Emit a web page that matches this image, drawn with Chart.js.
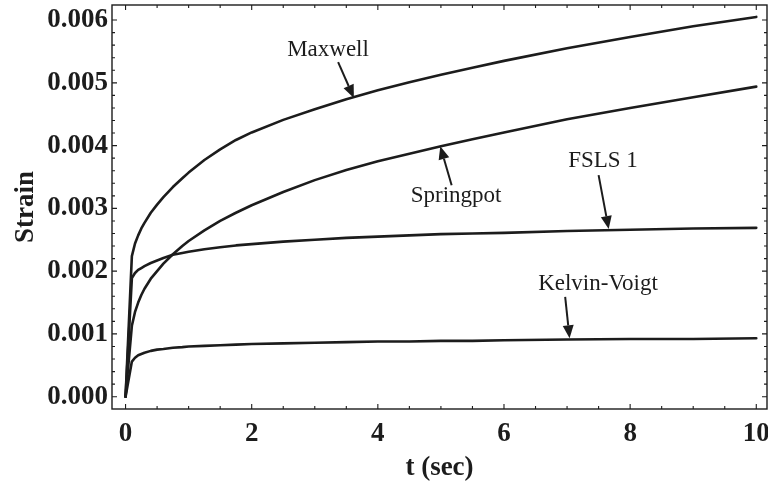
<!DOCTYPE html>
<html><head><meta charset="utf-8">
<script src="https://cdn.jsdelivr.net/npm/chart.js@4/dist/chart.umd.min.js"></script>
<style>html,body{margin:0;padding:0;background:#fff;overflow:hidden}#wrap{width:768px;height:489px;position:relative}</style>
</head><body><div id="wrap"><canvas id="c" width="768" height="489"></canvas></div>
<script>
// ---- data ----
const tValues     = [0, 0.1, 0.15, 0.2, 0.25, 0.3, 0.4, 0.5, 0.6, 0.75, 0.9, 1, 1.25, 1.5, 1.75, 2, 2.5, 3, 3.5, 4, 4.5, 5, 5.5, 6, 7, 8, 9, 10];
const maxwell     = [0, 0.00224, 0.00244, 0.00257, 0.00268, 0.00277, 0.00293, 0.00306, 0.00318, 0.00334, 0.00348, 0.00357, 0.00377, 0.00394, 0.00409, 0.00421, 0.00441, 0.00458, 0.00474, 0.00488, 0.00501, 0.00513, 0.00524, 0.00535, 0.00555, 0.00573, 0.00590, 0.00605];
const springpot   = [0, 0.00113, 0.00135, 0.00150, 0.00162, 0.00172, 0.00188, 0.00200, 0.00212, 0.00227, 0.00240, 0.00248, 0.00265, 0.00280, 0.00293, 0.00305, 0.00326, 0.00345, 0.00361, 0.00375, 0.00387, 0.00399, 0.00410, 0.00421, 0.00442, 0.00460, 0.00477, 0.00494];
const fsls1       = [0, 0.00189, 0.00197, 0.00202, 0.00205, 0.00208, 0.00213, 0.00217, 0.00221, 0.00226, 0.00229, 0.00231, 0.00235, 0.00238, 0.00241, 0.00243, 0.00247, 0.00250, 0.00253, 0.00255, 0.00257, 0.00259, 0.00260, 0.00261, 0.00264, 0.00266, 0.00268, 0.00269];
const kelvinVoigt = [0, 0.00056, 0.00062, 0.00066, 0.00068, 0.00070, 0.00073, 0.00075, 0.00076, 0.00078, 0.00079, 0.00080, 0.00081, 0.00082, 0.00083, 0.00084, 0.00085, 0.00086, 0.00087, 0.00088, 0.00088, 0.00089, 0.00089, 0.00090, 0.00091, 0.00092, 0.00092, 0.00093];
const seriesNames = ['Maxwell', 'Springpot', 'FSLS 1', 'Kelvin-Voigt'];
const xTickValues = [0, 2, 4, 6, 8, 10];
const xTickLabels = ['0', '2', '4', '6', '8', '10'];
const yTickValues = [0, 0.001, 0.002, 0.003, 0.004, 0.005, 0.006];
const yTickLabels = ['0.000', '0.001', '0.002', '0.003', '0.004', '0.005', '0.006'];
const xTitle = 't (sec)';
const yTitle = 'Strain';
// annotation labels and arrows, in data units
const labelText = ['Maxwell', 'Springpot', 'FSLS 1', 'Kelvin-Voigt'];
const labelPos  = [[3.21, 0.00552], [5.24, 0.00320], [7.57, 0.00375], [7.49, 0.00180]];
const arrowTail = [[3.37, 0.00533], [5.17, 0.00337], [7.50, 0.00353], [6.97, 0.00159]];
const arrowTip  = [[3.62, 0.00476], [4.99, 0.00399], [7.66, 0.00267], [7.04, 0.00093]];

const INK = '#1c1c1c';
const boldFont = {family: "'Liberation Serif','Times New Roman',serif", size: 27, weight: 'bold'};

function mk(values, name) {
  return {label: name, data: tValues.map((t, i) => ({x: t, y: values[i]})),
    borderColor: INK, borderWidth: 2.6, pointRadius: 0, tension: 0,
    borderJoinStyle: 'round', borderCapStyle: 'round', fill: false};
}

const framePlugin = {
  id: 'frameTicks',
  afterDraw(chart) {
    const {ctx, chartArea: a, scales: {x, y}} = chart;
    ctx.save();
    ctx.strokeStyle = INK;
    ctx.lineWidth = 1.4;
    ctx.strokeRect(a.left, a.top, a.right - a.left, a.bottom - a.top);
    ctx.lineWidth = 1.1;
    ctx.beginPath();
    for (let k = 0; k <= 20; k++) {
      const px = x.getPixelForValue(k * 0.5);
      const len = (k % 4 === 0) ? 5 : 3;
      ctx.moveTo(px, a.bottom); ctx.lineTo(px, a.bottom - len);
      ctx.moveTo(px, a.top); ctx.lineTo(px, a.top + len);
    }
    for (let k = 0; k <= 30; k++) {
      const py = y.getPixelForValue(k * 0.0002);
      const len = (k % 5 === 0) ? 5 : 3;
      ctx.moveTo(a.left, py); ctx.lineTo(a.left + len, py);
      ctx.moveTo(a.right, py); ctx.lineTo(a.right - len, py);
    }
    ctx.stroke();
    ctx.restore();
  },
  afterDatasetsDraw(chart) {
    const {ctx, scales: {x, y}} = chart;
    ctx.save();
    ctx.fillStyle = INK; ctx.strokeStyle = INK;
    ctx.font = "23px 'Liberation Serif','Times New Roman',serif";
    ctx.textAlign = 'center'; ctx.textBaseline = 'middle';
    for (let i = 0; i < labelText.length; i++) {
      ctx.fillText(labelText[i], x.getPixelForValue(labelPos[i][0]), y.getPixelForValue(labelPos[i][1]));
      const x0 = x.getPixelForValue(arrowTail[i][0]), y0 = y.getPixelForValue(arrowTail[i][1]);
      const x1 = x.getPixelForValue(arrowTip[i][0]),  y1 = y.getPixelForValue(arrowTip[i][1]);
      const ang = Math.atan2(y1 - y0, x1 - x0);
      const hl = 13, hw = 5.5;
      const bx = x1 - hl * Math.cos(ang), by = y1 - hl * Math.sin(ang);
      ctx.lineWidth = 2;
      ctx.beginPath(); ctx.moveTo(x0, y0); ctx.lineTo(bx, by); ctx.stroke();
      ctx.beginPath();
      ctx.moveTo(x1, y1);
      ctx.lineTo(bx + hw * Math.sin(ang), by - hw * Math.cos(ang));
      ctx.lineTo(bx - hw * Math.sin(ang), by + hw * Math.cos(ang));
      ctx.closePath(); ctx.fill();
    }
    ctx.restore();
  }
};

new Chart(document.getElementById('c'), {
  type: 'line',
  data: {datasets: [mk(maxwell, seriesNames[0]), mk(springpot, seriesNames[1]), mk(fsls1, seriesNames[2]), mk(kelvinVoigt, seriesNames[3])]},
  options: {
    responsive: false, animation: false, devicePixelRatio: 1,
    layout: {padding: {top: 5, right: 1, left: 0, bottom: 0}},
    plugins: {legend: {display: false}, tooltip: {enabled: false}},
    scales: {
      x: {
        type: 'linear', min: -0.215, max: 10.17,
        afterBuildTicks: s => { s.ticks = xTickValues.map(v => ({value: v})); },
        afterFit: s => { s.height = 80; s.paddingLeft = 0; s.paddingRight = 0; },
        grid: {display: false, drawTicks: false},
        border: {display: false},
        ticks: {color: INK, font: boldFont, padding: 9, maxRotation: 0, autoSkip: false,
          callback: (v, i) => xTickLabels[i]},
        title: {display: true, text: xTitle, color: INK, font: boldFont, padding: {top: 0, bottom: 5}}
      },
      y: {
        type: 'linear', min: -0.000196, max: 0.00624,
        afterBuildTicks: s => { s.ticks = yTickValues.map(v => ({value: v})); },
        afterFit: s => { s.width = 112; s.paddingTop = 0; s.paddingBottom = 0; },
        grid: {display: false, drawTicks: false},
        border: {display: false},
        ticks: {color: INK, font: boldFont, padding: 4, autoSkip: false,
          callback: (v, i) => yTickLabels[i]},
        title: {display: true, text: yTitle, color: INK, font: boldFont, padding: {top: 10, bottom: 0}}
      }
    }
  },
  plugins: [framePlugin]
});
</script></body></html>
